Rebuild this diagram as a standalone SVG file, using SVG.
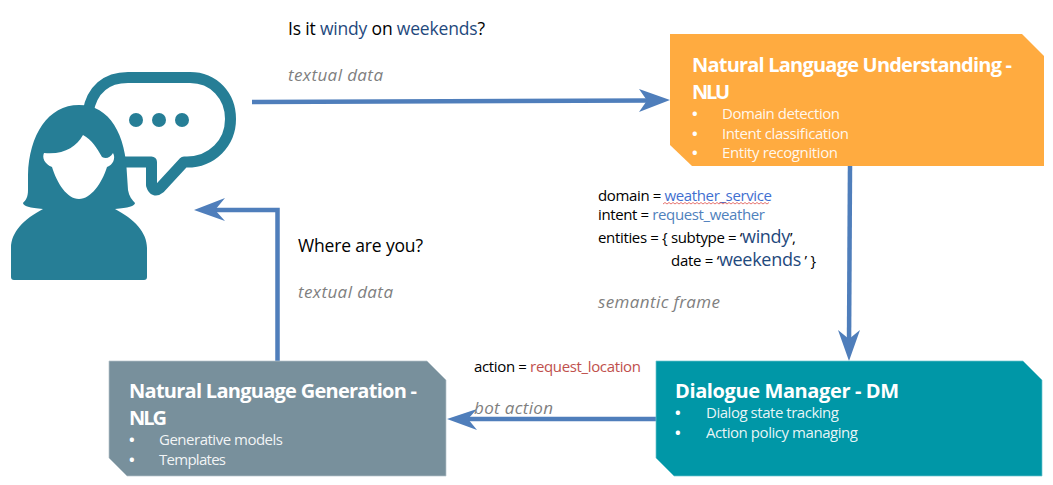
<svg xmlns="http://www.w3.org/2000/svg" width="1053" height="485" viewBox="0 0 1053 485">
<style>
text{font-family:"Open Sans","Noto Sans","Liberation Sans",sans-serif;font-size:15px;fill:#000}
.t{font-size:20px;font-weight:700;fill:#fff}
.b{font-size:15px;fill:#fff;fill-opacity:.92}
.d{font-weight:700;fill-opacity:1}
.g{font-size:17px;font-style:italic;fill:#7f7f7f}
.q{font-size:17.500px}
.db{fill:#1f497d}
.c{fill:none;stroke:#4f7ebb;stroke-width:4.5}
.h{fill:#4f7ebb}
.i{fill:#267e96}
</style>
<rect width="1053" height="485" fill="#fff"/>
<g id="user">
<path d="M88 112C92 90 106 77.500 128 77.500H190C214 77.500 230.500 96 230.500 119C230.500 143 212 162 187 162H184L160 188Q154 193 151.500 185V162H120" fill="none" stroke="#267e96" stroke-width="11" stroke-linejoin="round"/>
<circle class="i" cx="136" cy="120" r="7"/><circle class="i" cx="159" cy="120" r="7"/><circle class="i" cx="182" cy="120" r="7"/>
<path class="i" d="M79 105C48 105 29 135 28 175L28 190C28 197 26 200 23 203C23 206 30 208 43 209C24 219 11 232 11 248V277Q11 280 14 280H144Q147 280 147 277V248C147 232 134 219 115 209C128 208 135 206 135 203C132 200 129 196 128 190L127 175C126 135 110 105 79 105Z"/>
<path fill="#fff" d="M83 135C76 147 64 155 44 153C42 157 44 164 52 167C57 183 67 199 79 199C91 199 102 183 107 167C113 165 116 158 113 153C110 158 106 159 102 157C97 148 92 140 83 135Z"/>
</g>
<g id="connectors">
<path class="c" d="M252 102L650 100.500"/>
<path class="h" d="M670 100L639 89L647 100.500L639 112Z"/>
<path class="c" d="M850 166L849 345"/>
<path class="h" d="M849 361L838 330L849 339L860 330Z"/>
<path class="c" d="M656 419H465"/>
<path class="h" d="M447 419L477 409L468 419L477 430Z"/>
<path class="c" d="M277.500 361V210H212"/>
<path class="h" d="M194 210L225 198L215 210L225 221Z"/>
</g>
<g id="nlu">
<path fill="#ffab40" d="M670 34H1022L1044 56V166H692L670 145Z"/>
<text class="t" x="692" y="72" textLength="320">Natural Language Understanding -</text>
<text class="t" x="692" y="99" textLength="38">NLU</text>
<text class="b" y="119"><tspan class="d" x="692">•</tspan><tspan x="722" textLength="118">Domain detection</tspan></text>
<text class="b" y="139"><tspan class="d" x="692">•</tspan><tspan x="722" textLength="127">Intent classification</tspan></text>
<text class="b" y="158"><tspan class="d" x="692">•</tspan><tspan x="722" textLength="116">Entity recognition</tspan></text>
</g>
<g id="dm">
<path fill="#0097a7" stroke="#6cc4cf" stroke-width=".7" d="M656 361H1023L1042 380V476H674L656 458Z"/>
<text class="t" x="675" y="398" textLength="224">Dialogue Manager - DM</text>
<text class="b" y="418"><tspan class="d" x="675">•</tspan><tspan x="706" textLength="133">Dialog state tracking</tspan></text>
<text class="b" y="438"><tspan class="d" x="675">•</tspan><tspan x="706" textLength="152">Action policy managing</tspan></text>
</g>
<g id="nlg">
<path fill="#78909c" stroke="#b5c3ca" stroke-width=".7" d="M109 361H427L446 380V476H127L109 458Z"/>
<text class="t" x="129" y="398" textLength="288">Natural Language Generation -</text>
<text class="t" x="129" y="425" textLength="38">NLG</text>
<text class="b" y="445"><tspan class="d" x="129">•</tspan><tspan x="159" textLength="124">Generative models</tspan></text>
<text class="b" y="465"><tspan class="d" x="129">•</tspan><tspan x="159" textLength="67">Templates</tspan></text>
</g>
<g id="labels">
<text class="q" x="288" y="35" textLength="197">Is it <tspan class="db">windy</tspan> on <tspan class="db">weekends</tspan>?</text>
<text class="g" x="288" y="81" textLength="95">textual data</text>
<text class="q" x="298" y="252" textLength="125">Where are you?</text>
<text class="g" x="298" y="298" textLength="95">textual data</text>
<text x="598" y="201" textLength="174">domain = <tspan fill="#3f6fd0">weather_service</tspan></text>
<path fill="none" stroke="#e0524d" stroke-width=".8" d="M663 204l2 -1.500l2 1.500l2 -1.500l2 1.500l2 -1.500l2 1.500l2 -1.500l2 1.500l2 -1.500l2 1.500l2 -1.500l2 1.500l2 -1.500l2 1.500l2 -1.500l2 1.500l2 -1.500l2 1.500l2 -1.500l2 1.500l2 -1.500l2 1.500l2 -1.500l2 1.500l2 -1.500l2 1.500l2 -1.500l2 1.500l2 -1.500l2 1.500l2 -1.500l2 1.500l2 -1.500l2 1.500l2 -1.500l2 1.500l2 -1.500l2 1.500l2 -1.500l2 1.500l2 -1.500l2 1.500l2 -1.500l2 1.500l2 -1.500l2 1.500l2 -1.500l2 1.500l2 -1.500l2 1.500l2 -1.500l2 1.500l2 -1.500"/>
<text x="598" y="220" textLength="167">intent = <tspan fill="#4f81bd">request_weather</tspan></text>
<text x="598" y="243" textLength="198">entities = { subtype = ‘<tspan class="db" font-size="18">windy</tspan>’,</text>
<text x="671" y="266" textLength="145">date = ‘<tspan class="db" font-size="18">weekends</tspan> ’ }</text>
<text class="g" x="598" y="308" textLength="122">semantic frame</text>
<text x="474" y="372" textLength="167">action = <tspan fill="#c0504d">request_location</tspan></text>
<text class="g" x="474" y="414" textLength="79">bot action</text>
</g>
</svg>
